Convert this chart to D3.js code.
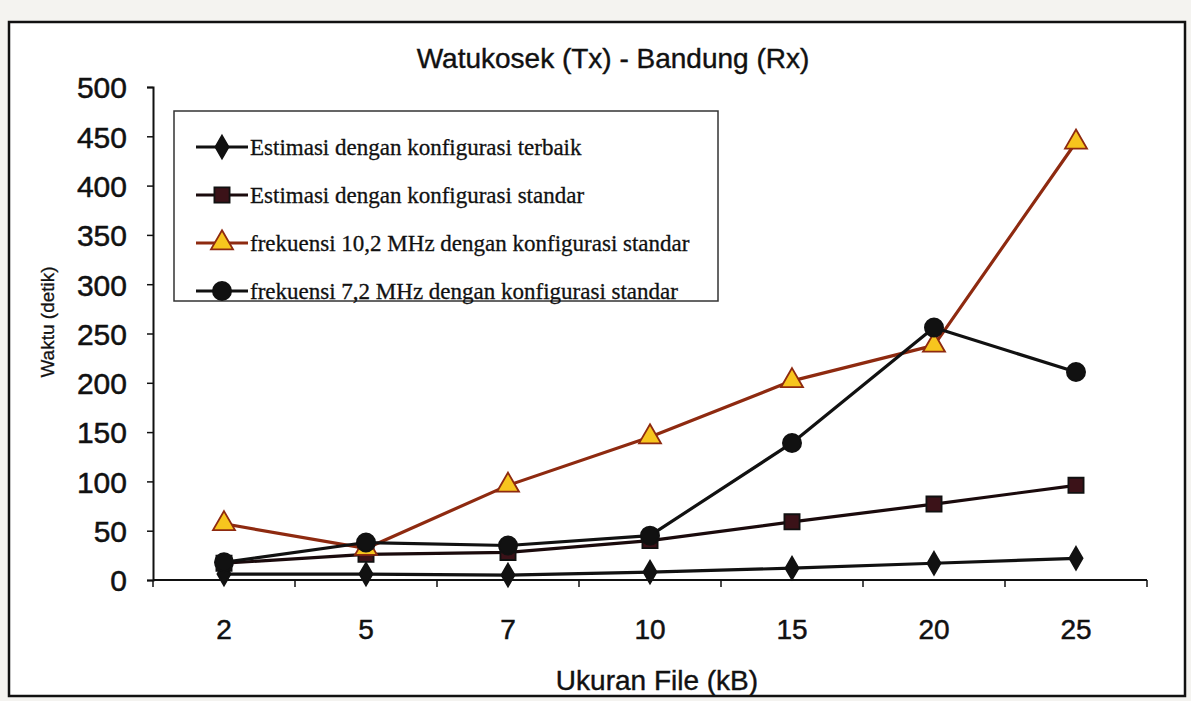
<!DOCTYPE html>
<html><head><meta charset="utf-8">
<script src="https://cdn.jsdelivr.net/npm/d3@7"></script>
<style>
html,body{margin:0;padding:0;background:#f4f3f0;}
svg{display:block;}
</style></head>
<body>
<svg id="chart" width="1191" height="701"></svg>
<script>
const categories = ["2","5","7","10","15","20","25"];
const seriesNames = [
  "Estimasi dengan konfigurasi terbaik",
  "Estimasi dengan konfigurasi standar",
  "frekuensi 10,2 MHz dengan konfigurasi standar",
  "frekuensi 7,2 MHz dengan konfigurasi standar"
];
const estimasiTerbaik = [6, 6, 5, 8, 12, 17, 22];
const estimasiStandar = [17, 26, 28, 40, 59, 77, 96];
const frek102 = [57, 32, 96, 145, 202, 238, 444];
const frek72 = [18, 38, 35, 45, 139, 256, 211];
const yTicks = [0, 50, 100, 150, 200, 250, 300, 350, 400, 450, 500];

(function () {
const svg = d3.select("#chart");
const mLeft = 153, mRight = 1147, mTop = 87, mBottom = 580;
const sans = "Liberation Sans, Arial, sans-serif";

// frame
svg.append("rect").attr("x", 9).attr("y", 22).attr("width", 1176).attr("height", 674)
  .attr("fill", "#ffffff").attr("stroke", "#111").attr("stroke-width", 2.5);

const x = d3.scaleBand().domain(categories).range([mLeft, mRight]).padding(0);
const y = d3.scaleLinear().domain([0, 500]).range([mBottom, mTop]);

// title
svg.append("text").attr("x", 613).attr("y", 68).attr("text-anchor", "middle")
  .attr("font-family", sans).attr("font-size", 28)
  .attr("fill", "#111").attr("stroke", "#111").attr("stroke-width", 0.4)
  .text("Watukosek (Tx) - Bandung (Rx)");

// y axis
const yAxis = d3.axisLeft(y).tickValues(yTicks).tickSize(6).tickPadding(20);
const gy = svg.append("g").attr("transform", `translate(${mLeft},0)`).call(yAxis);
gy.select(".domain").attr("stroke", "#111").attr("stroke-width", 2);
gy.selectAll(".tick line").attr("stroke", "#111").attr("stroke-width", 1.5);
gy.selectAll(".tick text").attr("font-family", sans)
  .attr("font-size", 30).attr("fill", "#111").attr("stroke", "#111").attr("stroke-width", 0.5)
  .attr("dy", "0.36em");

// x axis line
svg.append("line").attr("x1", mLeft).attr("x2", mRight).attr("y1", mBottom).attr("y2", mBottom)
  .attr("stroke", "#111").attr("stroke-width", 2);
// x ticks at band boundaries
const boundaries = categories.map(c => x(c)).concat([x(categories[categories.length-1]) + x.bandwidth()]);
svg.selectAll(".xtick").data(boundaries).enter().append("line")
  .attr("x1", d => d).attr("x2", d => d).attr("y1", mBottom).attr("y2", mBottom + 7)
  .attr("stroke", "#111").attr("stroke-width", 1.5);
// x labels
const xAxis = d3.axisBottom(x).tickSize(0).tickPadding(44);
const gx = svg.append("g").attr("transform", `translate(0,${mBottom})`).call(xAxis);
gx.select(".domain").remove();
gx.selectAll(".tick text").attr("font-family", sans)
  .attr("font-size", 28).attr("fill", "#111").attr("stroke", "#111").attr("stroke-width", 0.5)
  .attr("dy", "0.55em");

// axis titles
svg.append("text").attr("x", 657).attr("y", 690).attr("text-anchor", "middle")
  .attr("font-family", sans).attr("font-size", 28)
  .attr("fill", "#111").attr("stroke", "#111").attr("stroke-width", 0.4)
  .text("Ukuran File (kB)");
svg.append("text").attr("transform", "translate(54,322) rotate(-90)").attr("text-anchor", "middle")
  .attr("font-family", sans).attr("font-size", 19)
  .attr("fill", "#111").attr("stroke", "#111").attr("stroke-width", 0.3)
  .text("Waktu (detik)");

const cx = c => x(c) + x.bandwidth() / 2;
const series = [
  {name: seriesNames[0], values: estimasiTerbaik, line: "#111", marker: "diamond", fill: "#111", mstroke: "#111"},
  {name: seriesNames[1], values: estimasiStandar, line: "#1a0a0c", marker: "square", fill: "#3b1218", mstroke: "#111"},
  {name: seriesNames[2], values: frek102, line: "#8e2a10", marker: "triangle", fill: "#f7c51e", mstroke: "#8e2a10"},
  {name: seriesNames[3], values: frek72, line: "#111", marker: "circle", fill: "#111", mstroke: "#111"}
];
const sym = {
  diamond: d3.symbol().type(d3.symbolDiamond).size(150),
  square: d3.symbol().type(d3.symbolSquare).size(230),
  triangle: d3.symbol().type(d3.symbolTriangle).size(210),
  circle: d3.symbol().type(d3.symbolCircle).size(260)
};
const line = d3.line().x((d, i) => cx(categories[i])).y(d => y(d));

series.forEach(s => {
  svg.append("path").datum(s.values).attr("d", line).attr("fill", "none")
    .attr("stroke", s.line).attr("stroke-width", 3.2).attr("stroke-linejoin", "round");
});
series.forEach(s => {
  svg.selectAll(null).data(s.values).enter().append("path")
    .attr("d", sym[s.marker])
    .attr("transform", (d, i) => `translate(${cx(categories[i])},${y(d)})`)
    .attr("fill", s.fill).attr("stroke", s.mstroke).attr("stroke-width", 1.8);
});

// legend
const lg = svg.append("g");
lg.append("rect").attr("x", 174).attr("y", 111).attr("width", 544).attr("height", 190)
  .attr("fill", "#fff").attr("stroke", "#333").attr("stroke-width", 1.5);
series.forEach((s, i) => {
  const ly = 147 + i * 48;
  lg.append("line").attr("x1", 196).attr("x2", 248).attr("y1", ly).attr("y2", ly)
    .attr("stroke", s.line).attr("stroke-width", 3.2);
  lg.append("path").attr("d", sym[s.marker]).attr("transform", `translate(222,${ly})`)
    .attr("fill", s.fill).attr("stroke", s.mstroke).attr("stroke-width", 1.8);
  lg.append("text").attr("x", 250).attr("y", ly + 8)
    .attr("font-family", "Liberation Serif, Times New Roman, serif").attr("font-size", 23)
    .attr("fill", "#111").attr("stroke", "#111").attr("stroke-width", 0.3)
    .text(s.name);
});
})();
</script>
</body></html>
